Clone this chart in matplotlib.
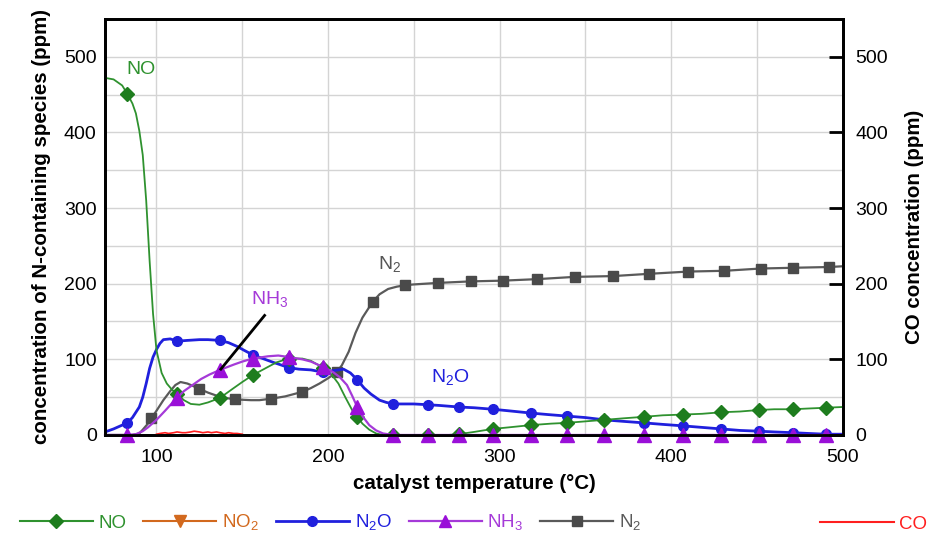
import matplotlib
matplotlib.use("Agg")
import matplotlib.pyplot as plt
from matplotlib.lines import Line2D

plt.rcParams['font.family'] = ['Liberation Sans', 'DejaVu Sans']
plt.rcParams['mathtext.fontset'] = 'custom'
plt.rcParams['mathtext.rm'] = 'Liberation Sans'
plt.rcParams['mathtext.bf'] = 'Liberation Sans:bold'

# marker temperatures (sampling points shown with symbols)
mark_a = [83, 112, 137, 156, 177, 197, 217, 238, 258, 276, 296, 318, 339, 361, 384, 407, 429, 451, 471, 490]
mark_b = [97, 125, 146, 167, 185, 205, 226, 245, 264, 283, 302, 322, 344, 366, 387, 410, 431, 452, 471, 492]

no_T = [70, 75, 80, 83, 86, 88, 90, 92, 94, 96, 98, 100, 103, 106, 109, 112, 116, 120, 125, 130, 137, 145,
        150, 156, 165, 170, 177, 185, 190, 197, 202, 206, 210, 214, 217, 220, 224, 228, 232, 238, 258, 270,
        276, 285, 296, 305, 318, 330, 339, 350, 361, 372, 384, 395, 407, 418, 429, 440, 451, 460, 471, 480,
        490, 500]
no_v = [472, 470, 462, 451, 438, 425, 402, 370, 310, 230, 160, 112, 82, 68, 60, 54, 46, 41, 40, 43, 49, 62,
        70, 79, 90, 96, 101, 101, 98, 89, 80, 68, 50, 33, 24, 15, 7, 2, 0, 0, 0, 0,
        1, 4, 8, 10, 13, 15, 16, 18, 20, 22, 24, 26, 27, 28, 30, 31, 33, 34, 34, 35,
        36, 37]

n2o_T = [70, 75, 80, 83, 86, 88, 90, 92, 94, 96, 98, 100, 102, 104, 108, 112, 118, 125, 130, 137, 142, 147,
         151, 156, 162, 168, 172, 177, 183, 190, 197, 203, 209, 213, 217, 221, 225, 230, 234, 238, 245, 250,
         258, 265, 276, 285, 296, 305, 318, 328, 339, 350, 361, 372, 384, 395, 407, 418, 429, 440, 451, 460,
         471, 480, 490, 500]
n2o_v = [4, 8, 13, 16, 23, 30, 37, 50, 68, 88, 103, 113, 121, 126, 127, 124, 125, 126, 126, 125, 122, 117,
         112, 106, 101, 96, 93, 89, 87, 86, 83, 85, 87, 82, 73, 62, 54, 46, 43, 41, 41, 41,
         40, 39, 37, 36, 34, 32, 29, 27, 25, 23, 20, 18, 16, 14, 12, 10, 8, 6, 5, 4,
         3, 2, 1, 1]

nh3_T = [70, 78, 83, 88, 92, 95, 100, 105, 109, 112, 116, 121, 126, 131, 137, 145, 150, 156, 165, 171, 177,
         185, 190, 197, 203, 207, 211, 214, 217, 220, 224, 228, 232, 238, 258, 276, 296, 318, 339, 361, 384,
         407, 429, 451, 471, 490, 500]
nh3_v = [0, 0, 0, 1, 5, 10, 20, 32, 42, 49, 58, 66, 74, 80, 86, 93, 97, 101, 104, 105, 103,
         100, 97, 90, 83, 76, 66, 52, 37, 25, 13, 6, 2, 0, 0, 0, 0, 0, 0, 0, 0,
         0, 0, 0, 0, 0, 0]

n2_T = [70, 80, 86, 90, 92, 95, 97, 100, 104, 108, 111, 114, 118, 121, 125, 130, 135, 140, 146, 155, 160,
        167, 175, 180, 185, 190, 195, 200, 205, 208, 212, 216, 220, 226, 230, 235, 240, 245, 250, 264, 283,
        302, 322, 344, 366, 387, 410, 431, 452, 471, 492, 500]
n2_v = [0, 0, 0, 2, 7, 15, 22, 32, 46, 58, 66, 70, 68, 65, 61, 56, 52, 49, 47, 46, 46,
        48, 51, 54, 57, 62, 68, 75, 83, 92, 110, 135, 155, 176, 186, 193, 196, 198, 199, 201, 203,
        204, 206, 209, 210, 213, 216, 217, 220, 221, 222, 223]

co_T = [100, 102, 105, 107, 110, 112, 115, 117, 120, 122, 125, 127, 130, 132, 135, 137, 140, 142, 145, 147, 150]
co_v = [1, 2, 3, 2, 3, 4, 3, 3, 4, 5, 4, 3, 4, 3, 4, 3, 2, 3, 2, 2, 1]


def marks(T, m):
    return [i for i, t in enumerate(T) if t in m]


def main():
    fig = plt.figure(figsize=(9.46, 5.39), dpi=100)
    ax = fig.add_axes([0.111, 0.193, 0.78, 0.772])
    ax2 = ax.twinx()

    c_no, c_no2, c_n2o, c_nh3, c_n2, c_co = '#2f922f', '#d2691e', '#2020dd', '#a53ad8', '#5a5a5a', '#ff1f1f'

    ax.plot(no_T, no_v, color=c_no, lw=1.3, marker='D', ms=7, mfc='#1e7d1e', mec='#1e7d1e',
            markevery=marks(no_T, mark_a), zorder=5)
    ax.plot(n2o_T, n2o_v, color=c_n2o, lw=2.0, marker='o', ms=7, markevery=marks(n2o_T, mark_a), zorder=4)
    ax.plot(nh3_T, nh3_v, color=c_nh3, lw=1.6, marker='^', ms=9.5, mfc='#9a10d8', mec='#9a10d8',
            markevery=marks(nh3_T, mark_a), zorder=6, clip_on=False)
    ax.plot(n2_T, n2_v, color=c_n2, lw=1.6, marker='s', ms=7.5, mfc='#4a4a4a', mec='#4a4a4a',
            markevery=marks(n2_T, mark_b), zorder=3)
    ax2.plot(co_T, co_v, color=c_co, lw=1.2)

    for a in (ax, ax2):
        a.set_xlim(70, 500)
        a.set_ylim(0, 550)
    ax.set_xticks([100, 200, 300, 400, 500])
    ax.set_xticks(range(100, 500, 50), minor=True)
    ax.set_yticks(range(0, 501, 100))
    ax.set_yticks(range(50, 550, 100), minor=True)
    ax.grid(True, which='both', color='#d4d4d4', lw=1)
    ax.set_axisbelow(True)
    ax.tick_params(axis='both', which='both', length=0, labelsize=14)
    ax.tick_params(axis='x', pad=10)
    ax.tick_params(axis='y', pad=6)
    ax2.set_yticks(range(0, 501, 100))
    ax2.tick_params(axis='y', direction='in', length=10, width=2, labelsize=14, pad=9)
    for a in (ax, ax2):
        for s in a.spines.values():
            s.set_linewidth(2)
    ax.set_xlabel('catalyst temperature (°C)', fontsize=14.8, fontweight='bold', labelpad=6)
    ax.set_ylabel('concentration of N-containing species (ppm)', fontsize=14.8, fontweight='bold', labelpad=9)
    ax2.set_ylabel('CO concentration (ppm)', fontsize=14.8, fontweight='bold', labelpad=12)

    ax.text(91, 483, 'NO', color=c_no, fontsize=14, ha='center', va='center')
    ax.text(166, 178, r'NH$_\mathregular{3}$', color=c_nh3, fontsize=14, ha='center', va='center')
    ax.plot([163, 137.5], [158, 87], color='black', lw=2, zorder=7)
    ax.text(236, 225, r'N$_\mathregular{2}$', color='#555555', fontsize=14, ha='center', va='center')
    ax.text(271, 75, r'N$_\mathregular{2}$O', color=c_n2o, fontsize=14, ha='center', va='center')

    handles = [
        Line2D([], [], color=c_no, lw=1.5, marker='D', ms=7, mfc='#1e7d1e', mec='#1e7d1e'),
        Line2D([], [], color=c_no2, lw=1.5, marker='v', ms=9),
        Line2D([], [], color=c_n2o, lw=2, marker='o', ms=7),
        Line2D([], [], color=c_nh3, lw=1.6, marker='^', ms=9, mfc='#9a10d8', mec='#9a10d8'),
        Line2D([], [], color=c_n2, lw=1.6, marker='s', ms=7, mfc='#4a4a4a', mec='#4a4a4a'),
    ]
    labels = ['NO', r'NO$_\mathregular{2}$', r'N$_\mathregular{2}$O', r'NH$_\mathregular{3}$', r'N$_\mathregular{2}$']
    leg = fig.legend(handles, labels, loc='lower left', bbox_to_anchor=(0.003, -0.02), ncol=5, frameon=False,
                     fontsize=13.5, handlelength=3.9, handletextpad=0.3, columnspacing=0.9)
    for t, h in zip(leg.get_texts(), handles):
        t.set_color(h.get_color())
    leg2 = fig.legend([Line2D([], [], color=c_co, lw=1.5)], ['CO'], loc='lower right',
                      bbox_to_anchor=(0.998, -0.02), frameon=False, fontsize=13.5, handlelength=3.9,
                      handletextpad=0.3)
    leg2.get_texts()[0].set_color(c_co)

    fig.savefig('out.png', dpi=100)


if __name__ == '__main__':
    main()
